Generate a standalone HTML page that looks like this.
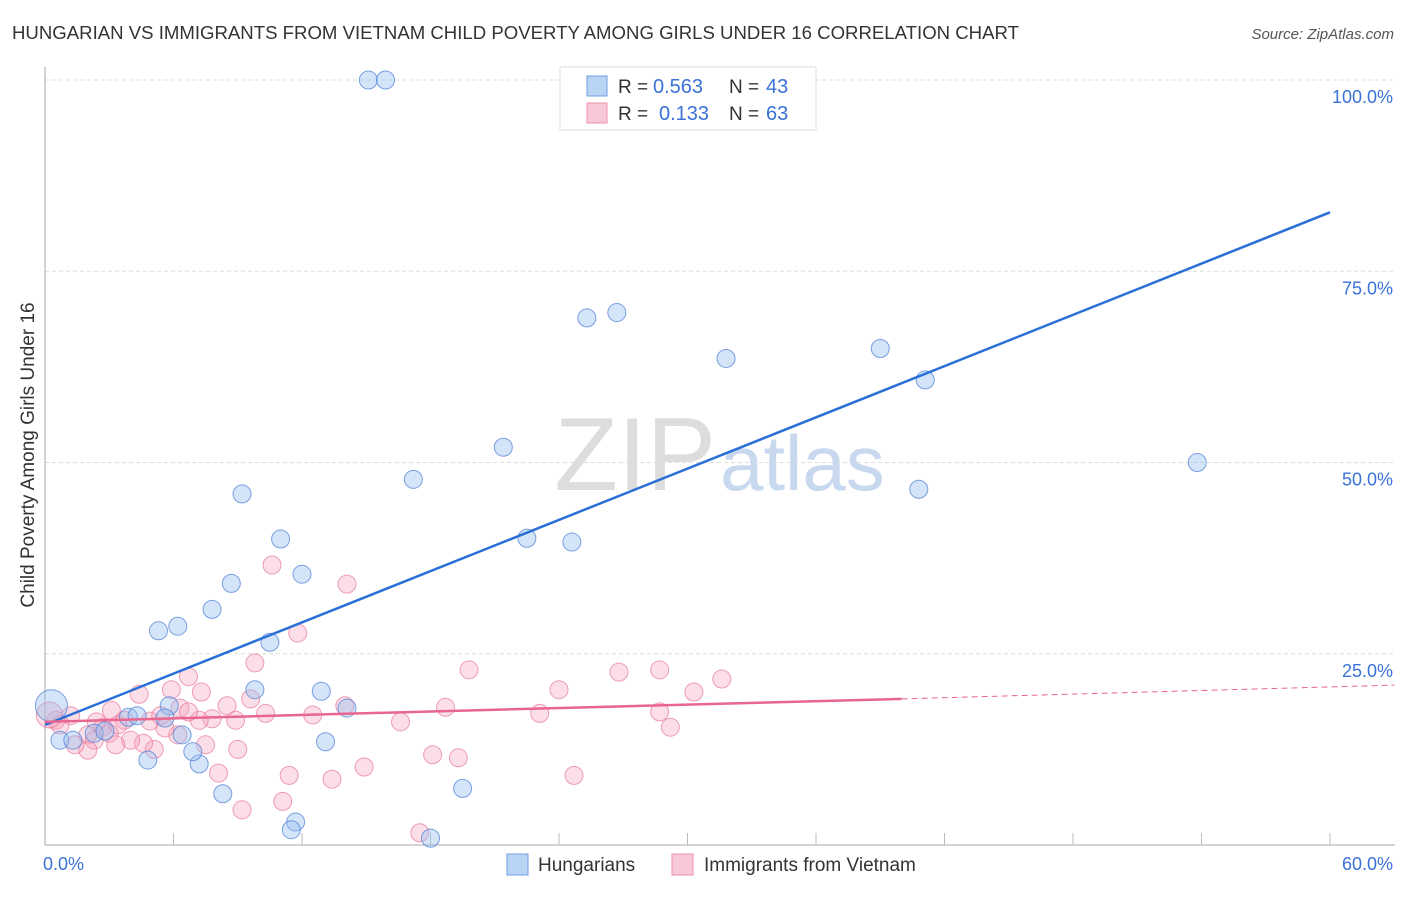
<!DOCTYPE html>
<html><head><meta charset="utf-8"><style>
body{margin:0;background:#fff;font-family:"Liberation Sans",sans-serif;}
svg text{font-family:"Liberation Sans",sans-serif;}
</style></head><body>
<svg id="chart" width="1406" height="892" xmlns="http://www.w3.org/2000/svg">
<text x="12" y="39" font-size="18.6" fill="#333">HUNGARIAN VS IMMIGRANTS FROM VIETNAM CHILD POVERTY AMONG GIRLS UNDER 16 CORRELATION CHART</text>
<text x="1394" y="39" font-size="15" fill="#555" text-anchor="end" font-style="italic">Source: ZipAtlas.com</text>
<text x="716" y="490" font-size="104" fill="#ddd" text-anchor="end" font-family="Liberation Serif">ZIP</text>
<text x="720" y="490" font-size="78" fill="#c8d8ee">atlas</text>
<text transform="translate(34,455) rotate(-90)" font-size="19" fill="#333" text-anchor="middle">Child Poverty Among Girls Under 16</text>
<g id="grid"></g><g id="axes"></g><g id="pts"></g><g id="lines"></g>
<g>
<rect x="560" y="67" width="256" height="63" fill="#fff" stroke="#ddd"/>
<rect x="587" y="76" width="20" height="20" fill="#b9d3f4" stroke="#6f9fe0"/>
<text x="618" y="93" font-size="19" fill="#333">R =</text>
<text x="653" y="93" font-size="20" fill="#3a72d8">0.563</text>
<text x="729" y="93" font-size="19" fill="#333">N =</text>
<text x="766" y="93" font-size="20" fill="#3a72d8">43</text>
<rect x="587" y="103" width="20" height="20" fill="#f8c8d6" stroke="#ee92ad"/>
<text x="618" y="120" font-size="19" fill="#333">R =</text>
<text x="659" y="120" font-size="20" fill="#3a72d8">0.133</text>
<text x="729" y="120" font-size="19" fill="#333">N =</text>
<text x="766" y="120" font-size="20" fill="#3a72d8">63</text>
</g>
<g>
<rect x="507" y="854" width="21" height="21" fill="#b9d3f4" stroke="#6f9fe0"/>
<text x="538" y="871" font-size="19" fill="#333">Hungarians</text>
<rect x="672" y="854" width="21" height="21" fill="#f8c8d6" stroke="#ee92ad"/>
<text x="704" y="871" font-size="19" fill="#333">Immigrants from Vietnam</text>
</g>
</svg>
<script>
const yTicks=[25,50,75,100];
const xTickLabels=["0.0%","60.0%"];
const blueX=[15.1,15.9,25.3,26.7,31.8,39.0,41.1,21.4,17.2,9.2,53.8,40.8,22.5,24.6,11.0,8.7,12.0,7.8,5.3,6.2,10.5,9.8,12.9,14.1,5.8,13.1,4.8,7.2,6.9,8.3,19.5,11.7,11.5,18.0,0.3,0.7,1.3,2.3,2.8,3.9,4.3,5.6,6.4];
const blueY=[100,100,68.9,69.6,63.6,64.9,60.8,52.0,47.8,45.9,50.0,46.5,40.1,39.6,40.0,34.2,35.4,30.8,28.0,28.6,26.5,20.3,20.1,17.9,18.2,13.5,11.1,10.6,12.2,6.7,7.4,3.0,2.0,0.9,18.2,13.7,13.7,14.6,14.9,16.7,16.9,16.6,14.4];
const pinkX=[10.6,14.1,11.8,9.8,6.7,19.8,26.8,28.7,31.6,24.0,30.3,4.4,5.9,7.3,9.6,6.3,8.5,7.8,10.3,14.0,18.7,23.1,28.7,12.5,16.6,29.2,5.4,4.9,3.1,2.7,2.0,2.3,6.2,7.5,5.1,9.0,4.6,3.0,18.1,19.3,14.9,8.1,11.4,13.4,24.7,9.2,11.1,17.5,1.2,0.5,3.7,0.7,2.0,4.0,7.2,5.6,0.2,1.4,3.4,6.7,8.9,3.3,2.4];
const pinkY=[36.6,34.1,27.7,23.8,22.0,22.9,22.6,22.9,21.7,20.3,20.0,19.7,20.3,20.0,19.1,17.9,18.2,16.5,17.2,18.2,18.0,17.2,17.4,17.0,16.1,15.4,16.9,16.2,17.6,15.4,14.4,13.7,14.4,13.1,12.5,12.5,13.3,14.6,11.8,11.4,10.2,9.4,9.1,8.6,9.1,4.6,5.7,1.6,16.9,16.3,16.3,15.7,12.4,13.7,16.3,15.3,17.0,13.1,15.7,17.4,16.3,13.1,16.1];
const blueTrend=[15.7,82.7];
const pinkTrend=[16.1,19.1,20.9];
const X0=45,X1=1330,Y0=845,Y100=80;
const sx=v=>X0+(X1-X0)*v/60, sy=v=>Y0-(Y0-Y100)*v/100;
const NS="http://www.w3.org/2000/svg";
function mk(tag,attrs,parent){const e=document.createElementNS(NS,tag);for(const k in attrs)e.setAttribute(k,attrs[k]);document.getElementById(parent).appendChild(e);return e;}
yTicks.forEach(t=>{
 const l=mk('line',{x1:X0,x2:1395,y1:sy(t),y2:sy(t),stroke:'#ddd','stroke-dasharray':'4,3'},'grid');
 
 
 const tx=mk('text',{x:1393,y:sy(t)+23,'font-size':18,fill:'#3a72d8','text-anchor':'end'},'grid');
 tx.textContent=t.toFixed(1)+'%';
 
 
});
let a=mk('line',{x1:X0,x2:X0,y1:67,y2:Y0,stroke:'#aaa'},'axes');


a=mk('line',{x1:X0,x2:1395,y1:Y0,y2:Y0,stroke:'#aaa'},'axes');


for(let i=1;i<=10;i++){const t=mk('line',{x1:sx(i*6),x2:sx(i*6),y1:Y0-12,y2:Y0,stroke:'#bbb'},'axes');
 
 }
[[0,'start',X0-2],[60,'end',1393]].forEach((d,i)=>{const t=mk('text',{x:d[2],y:870,'font-size':18,fill:'#3a72d8','text-anchor':d[1]},'axes');t.textContent=xTickLabels[i];
 
 });
pinkX.forEach((x,i)=>{const c=mk('circle',{cx:sx(x),cy:sy(pinkY[i]),r:(i==56?13:9),fill:'rgba(244,160,186,0.35)',stroke:'rgba(232,120,155,0.7)','stroke-width':1},'pts');
 
 });
blueX.forEach((x,i)=>{const c=mk('circle',{cx:sx(x),cy:sy(blueY[i]),r:(i==34?16:9),fill:'rgba(150,190,240,0.4)',stroke:'rgba(80,130,215,0.75)','stroke-width':1},'pts');
 
 });
let ln=mk('line',{x1:sx(0),y1:sy(blueTrend[0]),x2:sx(60),y2:sy(blueTrend[1]),stroke:'#2a6fd6','stroke-width':2.5},'lines');


ln=mk('line',{x1:sx(0),y1:sy(pinkTrend[0]),x2:sx(40),y2:sy(pinkTrend[1]),stroke:'#e8668f','stroke-width':2.5},'lines');


ln=mk('line',{x1:sx(40),y1:sy(pinkTrend[1]),x2:sx(63),y2:sy(pinkTrend[2]),stroke:'#e8668f','stroke-width':1,'stroke-dasharray':'6,4'},'lines');


</script>
</body></html>
